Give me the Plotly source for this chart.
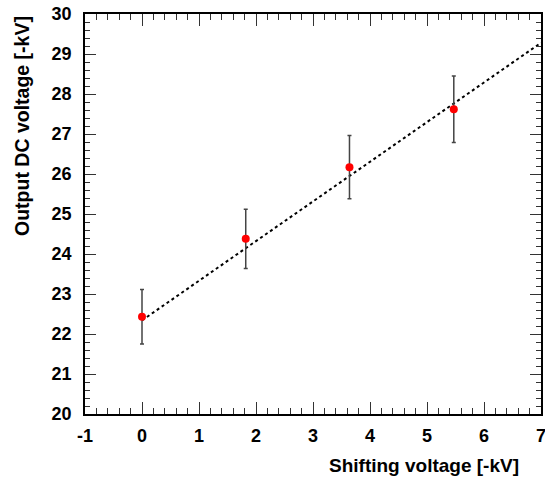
import plotly.graph_objects as go

# Data
shift_kv = [0.0, 1.82, 3.64, 5.47]
output_kv = [22.43, 24.38, 26.17, 27.62]
output_err = [0.68, 0.74, 0.79, 0.83]

fit_x = [0.0, 7.0]
fit_y = [22.34, 29.28]

x_ticks = [-1, 0, 1, 2, 3, 4, 5, 6, 7]
y_ticks = [20, 21, 22, 23, 24, 25, 26, 27, 28, 29, 30]

FONT = "Liberation Sans, Arial, sans-serif"

fig = go.Figure()

fig.add_trace(go.Scatter(
    x=fit_x, y=fit_y, mode="lines",
    line=dict(color="black", width=2, dash="3px,3px"),
    showlegend=False, hoverinfo="skip",
))

fig.add_trace(go.Scatter(
    x=shift_kv, y=output_kv, mode="markers",
    marker=dict(color="red", size=8),
    error_y=dict(type="data", array=output_err, visible=True,
                 color="#444444", thickness=1.5, width=2),
    showlegend=False,
))

axis_common = dict(
    showgrid=False, zeroline=False, automargin=False,
    ticklabeloverflow="allow",
    showline=True, linecolor="black", linewidth=1.5, mirror="allticks",
    ticks="inside", tickcolor="#333333", tickwidth=1,
    tickfont=dict(family=FONT, size=18, color="black", weight="bold"),
)

fig.update_xaxes(
    range=[-1, 7], tickvals=x_ticks, ticktext=[f"<b>{v}</b>" for v in x_ticks],
    ticklen=12, ticklabelstandoff=5,
    minor=dict(dtick=0.2, ticks="inside", ticklen=6, tickcolor="#333333", tickwidth=1, showgrid=False),
    **axis_common,
)
fig.update_yaxes(
    range=[20, 30], tickvals=y_ticks, ticktext=[f"<b>{v}</b>" for v in y_ticks],
    ticklen=11, ticklabelstandoff=8,
    minor=dict(dtick=0.2, ticks="inside", ticklen=5, tickcolor="#333333", tickwidth=1, showgrid=False),
    **axis_common,
)

fig.add_annotation(
    text="<b>Shifting voltage [-kV]</b>", xref="paper", yref="paper",
    x=1, y=0, xanchor="right", yanchor="middle", xshift=-20, yshift=-51,
    showarrow=False, font=dict(family=FONT, size=19, color="black"),
)
fig.add_annotation(
    text="<b>Output DC voltage [-kV]</b>", xref="paper", yref="paper",
    x=0, y=1, xanchor="center", yanchor="top", textangle=-90,
    xshift=-63, yshift=0,
    showarrow=False, font=dict(family=FONT, size=19.5, color="black"),
)

fig.update_layout(
    width=545, height=477,
    margin=dict(l=85, r=4, t=14, b=63, autoexpand=False),
    plot_bgcolor="white", paper_bgcolor="white",
)

fig.write_html("out.html")
